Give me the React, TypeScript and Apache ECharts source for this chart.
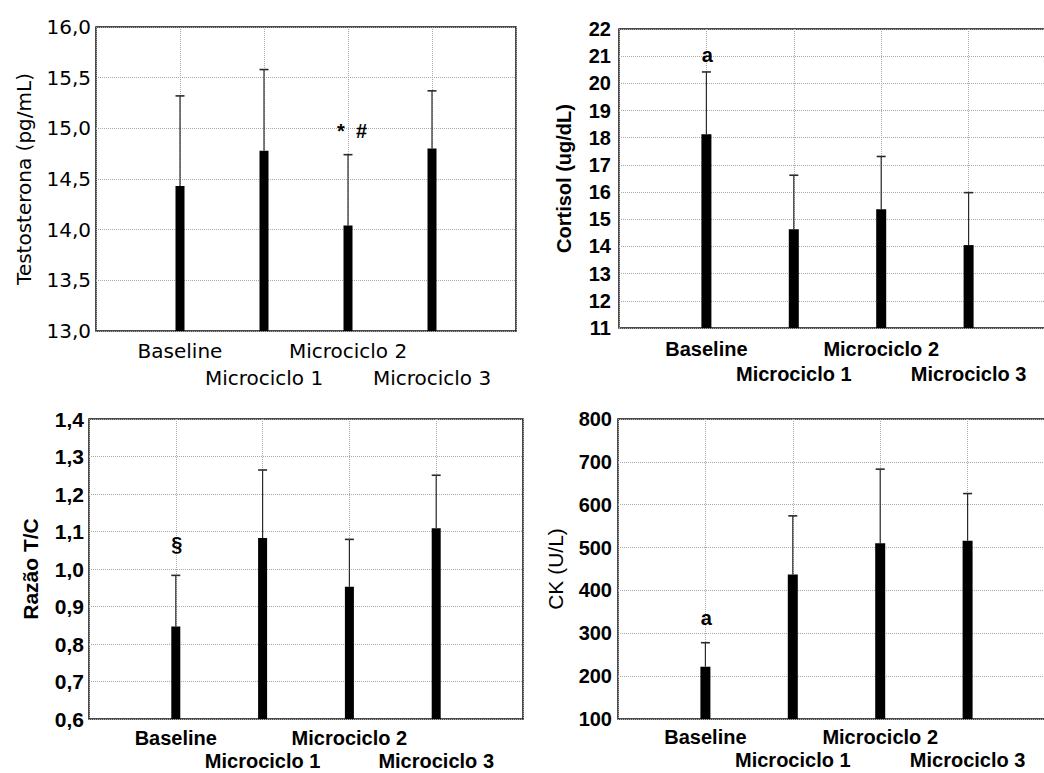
import React, { useEffect, useRef } from "react";
import * as echarts from "echarts";

// ---------- data ----------
const categories = ["Baseline", "Microciclo 1", "Microciclo 2", "Microciclo 3"];

const testosteronaMean = [14.43, 14.78, 14.04, 14.8];
const testosteronaUpper = [15.32, 15.58, 14.74, 15.37];
const testosteronaTicks = [13.0, 13.5, 14.0, 14.5, 15.0, 15.5, 16.0];

const cortisolMean = [18.13, 14.63, 15.37, 14.05];
const cortisolUpper = [20.42, 16.62, 17.31, 15.98];
const cortisolTicks = [11, 12, 13, 14, 15, 16, 17, 18, 19, 20, 21, 22];

const razaoMean = [0.847, 1.083, 0.953, 1.109];
const razaoUpper = [0.983, 1.264, 1.079, 1.25];
const razaoTicks = [0.6, 0.7, 0.8, 0.9, 1.0, 1.1, 1.2, 1.3, 1.4];

const ckMean = [222, 437, 510, 516];
const ckUpper = [278, 574, 683, 626];
const ckTicks = [100, 200, 300, 400, 500, 600, 700, 800];

const testosteronaMarks = [{ cat: 2, y: 14.97, text: "*  #" }];
const cortisolMarks = [{ cat: 0, y: 21.04, text: "a" }];
const razaoMarks = [{ cat: 0, y: 1.067, text: "§" }];
const ckMarks = [{ cat: 0, y: 335, text: "a" }];

// ---------- panel builder ----------
type Font = { family: string; size: number; weight: string };
type Panel = {
  rect: { left: number; top: number; width: number; height: number };
  mean: number[];
  upper: number[];
  ticks: number[];
  decimals: number;
  marks: { cat: number; y: number; text: string }[];
  name: string;
  nameGap: number;
  nameFont: Font;
  tickFont: Font;
  catFont: Font;
  yLabelMargin: number;
  xLabelMargin: number;
  xLineHeight: number;
  barWidth: number;
};

const SANS = "Liberation Sans, Arial, sans-serif";
const DEJA = "DejaVu Sans, sans-serif";

const panels: Panel[] = [
  {
    rect: { left: 96, top: 27, width: 420, height: 304 },
    mean: testosteronaMean,
    upper: testosteronaUpper,
    ticks: testosteronaTicks,
    decimals: 1,
    marks: testosteronaMarks,
    name: "Testosterona (pg/mL)",
    nameGap: 62,
    nameFont: { family: DEJA, size: 20, weight: "normal" },
    tickFont: { family: DEJA, size: 20, weight: "normal" },
    catFont: { family: DEJA, size: 20, weight: "normal" },
    yLabelMargin: 5,
    xLabelMargin: 6,
    xLineHeight: 27,
    barWidth: 9,
  },
  {
    rect: { left: 619, top: 29, width: 437, height: 299 },
    mean: cortisolMean,
    upper: cortisolUpper,
    ticks: cortisolTicks,
    decimals: 0,
    marks: cortisolMarks,
    name: "Cortisol (ug/dL)",
    nameGap: 45,
    nameFont: { family: SANS, size: 20, weight: "bold" },
    tickFont: { family: SANS, size: 20, weight: "bold" },
    catFont: { family: SANS, size: 20, weight: "bold" },
    yLabelMargin: 8,
    xLabelMargin: 8,
    xLineHeight: 25,
    barWidth: 10,
  },
  {
    rect: { left: 89, top: 419, width: 434, height: 300 },
    mean: razaoMean,
    upper: razaoUpper,
    ticks: razaoTicks,
    decimals: 1,
    marks: razaoMarks,
    name: "Razão T/C",
    nameGap: 48,
    nameFont: { family: SANS, size: 21, weight: "bold" },
    tickFont: { family: SANS, size: 21, weight: "bold" },
    catFont: { family: SANS, size: 20, weight: "bold" },
    yLabelMargin: 5,
    xLabelMargin: 7,
    xLineHeight: 23,
    barWidth: 9,
  },
  {
    rect: { left: 618, top: 419, width: 437, height: 300 },
    mean: ckMean,
    upper: ckUpper,
    ticks: ckTicks,
    decimals: 0,
    marks: ckMarks,
    name: "CK (U/L)",
    nameGap: 52,
    nameFont: { family: SANS, size: 21, weight: "normal" },
    tickFont: { family: SANS, size: 20, weight: "bold" },
    catFont: { family: SANS, size: 20, weight: "bold" },
    yLabelMargin: 6,
    xLabelMargin: 6,
    xLineHeight: 23,
    barWidth: 10,
  },
];

function buildOption() {
  const grid: any[] = [];
  const xAxis: any[] = [];
  const yAxis: any[] = [];
  const series: any[] = [];

  panels.forEach((p, i) => {
    const min = p.ticks[0];
    const max = p.ticks[p.ticks.length - 1];
    const interval = +(p.ticks[1] - p.ticks[0]).toFixed(6);

    grid.push({
      ...p.rect,
      show: true,
      borderColor: "#111",
      borderWidth: 1.5,
      backgroundColor: "transparent",
      containLabel: false,
      outerBoundsMode: "none",
    });

    xAxis.push({
      gridIndex: i,
      type: "value",
      min: 0,
      max: categories.length + 1,
      interval: 1,
      axisLine: { show: false },
      axisTick: { show: false },
      splitLine: { show: true, lineStyle: { type: "dotted", color: "#a8a8a8", width: 1 } },
      axisLabel: {
        margin: p.xLabelMargin,
        lineHeight: p.xLineHeight,
        color: "#000",
        fontFamily: p.catFont.family,
        fontSize: p.catFont.size,
        fontWeight: p.catFont.weight,
        hideOverlap: false,
        formatter: (v: number) => {
          const k = Math.round(v) - 1;
          if (k < 0 || k >= categories.length) return "";
          return k % 2 === 1 ? "\n" + categories[k] : categories[k];
        },
      },
    });

    yAxis.push({
      gridIndex: i,
      type: "value",
      min,
      max,
      interval,
      name: p.name,
      nameLocation: "middle",
      nameGap: p.nameGap,
      nameTextStyle: {
        color: "#000",
        fontFamily: p.nameFont.family,
        fontSize: p.nameFont.size,
        fontWeight: p.nameFont.weight,
      },
      axisLine: { show: false },
      axisTick: { show: false },
      splitLine: { show: true, lineStyle: { type: "dotted", color: "#a8a8a8", width: 1 } },
      axisLabel: {
        margin: p.yLabelMargin,
        color: "#000",
        fontFamily: p.tickFont.family,
        fontSize: p.tickFont.size,
        fontWeight: p.tickFont.weight,
        hideOverlap: false,
        formatter: (v: number) => v.toFixed(p.decimals).replace(".", ","),
      },
    });

    series.push({
      type: "bar",
      xAxisIndex: i,
      yAxisIndex: i,
      data: p.mean.map((v, k) => [k + 1, v]),
      barWidth: p.barWidth,
      itemStyle: { color: "#000" },
      clip: true,
      z: 3,
    });

    series.push({
      type: "custom",
      xAxisIndex: i,
      yAxisIndex: i,
      data: p.mean.map((v, k) => [k + 1, v, p.upper[k]]),
      clip: false,
      z: 4,
      renderItem: (_params: any, api: any) => {
        const x = api.value(0);
        const a = api.coord([x, api.value(1)]);
        const b = api.coord([x, api.value(2)]);
        return {
          type: "group",
          children: [
            {
              type: "line",
              shape: { x1: a[0], y1: a[1], x2: b[0], y2: b[1] },
              style: { stroke: "#2a2a2a", lineWidth: 1.2 },
            },
            {
              type: "line",
              shape: { x1: b[0] - 4.5, y1: b[1], x2: b[0] + 4.5, y2: b[1] },
              style: { stroke: "#2a2a2a", lineWidth: 1.6 },
            },
          ],
        };
      },
    });

    series.push({
      type: "custom",
      xAxisIndex: i,
      yAxisIndex: i,
      data: p.marks.map((m) => [m.cat + 1, m.y]),
      clip: false,
      z: 5,
      renderItem: (params: any, api: any) => {
        const pt = api.coord([api.value(0), api.value(1)]);
        return {
          type: "text",
          x: pt[0] + (i === 0 ? 4 : 1),
          y: pt[1],
          style: {
            text: p.marks[params.dataIndex].text,
            fill: "#000",
            fontFamily: SANS,
            fontSize: 20,
            fontWeight: "bold",
            align: "center",
            verticalAlign: "middle",
          },
        };
      },
    });
  });

  return {
    animation: false,
    backgroundColor: "#fff",
    grid,
    xAxis,
    yAxis,
    series,
  };
}

export default function App() {
  const ref = useRef<HTMLDivElement>(null);
  useEffect(() => {
    if (!ref.current) return;
    const chart = echarts.init(ref.current, undefined, { renderer: "svg" });
    chart.setOption(buildOption() as any);
    return () => chart.dispose();
  }, []);
  return (
    <div
      ref={ref}
      style={{ position: "absolute", left: 0, top: 0, width: 1044, height: 773, background: "#fff" }}
    />
  );
}
